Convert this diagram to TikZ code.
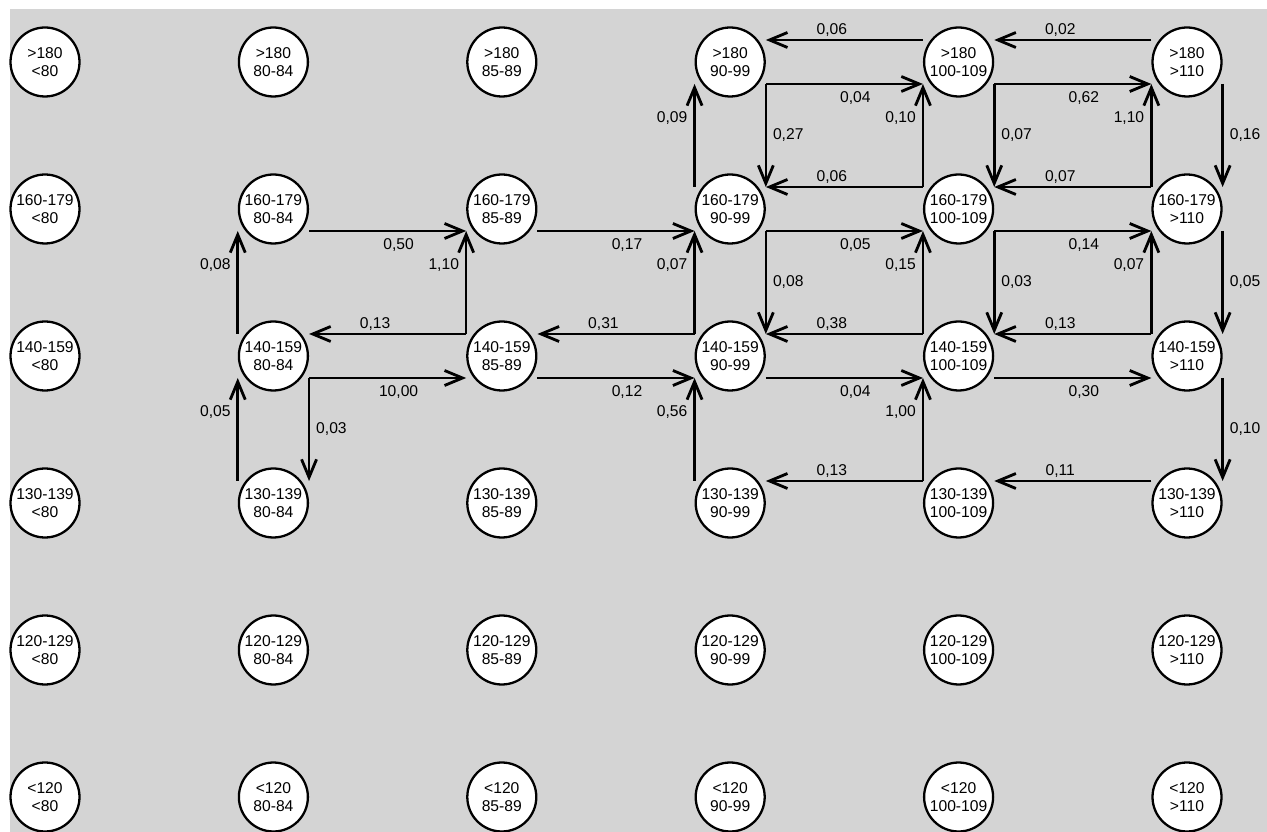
\documentclass[tikz,border=0pt]{standalone}
\usepackage{fontspec}
\setmainfont{Liberation Sans}
\usepackage{tikz}
\usetikzlibrary{arrows.meta,positioning}
\usepackage{xcolor}
\definecolor{bggray}{HTML}{D4D4D4}

\begin{document}
\begin{tikzpicture}[
font=\fontsize{8.9}{10.2}\selectfont,
node distance=2.94cm and 4.568cm,
on grid,
state/.style={circle,draw,fill=white,line width=1.3pt,minimum size=1.38cm,inner sep=0pt,align=center},
arr/.style={-{Straight Barb[length=3.6mm,width=3mm,line width=1.6pt]},line width=1.5pt},
hi/.style={yshift=0.44cm},
lo/.style={yshift=-0.44cm},
lblabove/.style={pos=0.58,above,inner sep=1pt},
lblbelow/.style={pos=0.57,below},
lblleft/.style={pos=0.67,left},
lblright/.style={midway,right}
]
\useasboundingbox (0,0) rectangle (25.34,-16.64);
\fill[white] (0,0) rectangle (25.34,-16.64);
\fill[bggray] (0.2,-0.18) rectangle (25.34,-16.64);

% row >180
\node[state] (s180d0) at (0.9,-1.24) {>180\\<80};
\node[state,right=of s180d0] (s180d80) {>180\\80-84};
\node[state,right=of s180d80] (s180d85) {>180\\85-89};
\node[state,right=of s180d85] (s180d90) {>180\\90-99};
\node[state,right=of s180d90] (s180d100) {>180\\100-109};
\node[state,right=of s180d100] (s180d110) {>180\\>110};
% row 160-179
\node[state,below=of s180d0] (s160d0) {160-179\\<80};
\node[state,right=of s160d0] (s160d80) {160-179\\80-84};
\node[state,right=of s160d80] (s160d85) {160-179\\85-89};
\node[state,right=of s160d85] (s160d90) {160-179\\90-99};
\node[state,right=of s160d90] (s160d100) {160-179\\100-109};
\node[state,right=of s160d100] (s160d110) {160-179\\>110};
% row 140-159
\node[state,below=of s160d0] (s140d0) {140-159\\<80};
\node[state,right=of s140d0] (s140d80) {140-159\\80-84};
\node[state,right=of s140d80] (s140d85) {140-159\\85-89};
\node[state,right=of s140d85] (s140d90) {140-159\\90-99};
\node[state,right=of s140d90] (s140d100) {140-159\\100-109};
\node[state,right=of s140d100] (s140d110) {140-159\\>110};
% row 130-139
\node[state,below=of s140d0] (s130d0) {130-139\\<80};
\node[state,right=of s130d0] (s130d80) {130-139\\80-84};
\node[state,right=of s130d80] (s130d85) {130-139\\85-89};
\node[state,right=of s130d85] (s130d90) {130-139\\90-99};
\node[state,right=of s130d90] (s130d100) {130-139\\100-109};
\node[state,right=of s130d100] (s130d110) {130-139\\>110};
% row 120-129
\node[state,below=of s130d0] (s120d0) {120-129\\<80};
\node[state,right=of s120d0] (s120d80) {120-129\\80-84};
\node[state,right=of s120d80] (s120d85) {120-129\\85-89};
\node[state,right=of s120d85] (s120d90) {120-129\\90-99};
\node[state,right=of s120d90] (s120d100) {120-129\\100-109};
\node[state,right=of s120d100] (s120d110) {120-129\\>110};
% row <120
\node[state,below=of s120d0] (s0d0) {<120\\<80};
\node[state,right=of s0d0] (s0d80) {<120\\80-84};
\node[state,right=of s0d80] (s0d85) {<120\\85-89};
\node[state,right=of s0d85] (s0d90) {<120\\90-99};
\node[state,right=of s0d90] (s0d100) {<120\\100-109};
\node[state,right=of s0d100] (s0d110) {<120\\>110};

% to the right
\draw[arr] ([lo]s160d80.east) -- node[lblbelow]{0,50} ([lo]s160d85.west);
\draw[arr] ([lo]s140d80.east) -- node[lblbelow]{10,00} ([lo]s140d85.west);
\draw[arr] ([lo]s160d85.east) -- node[lblbelow]{0,17} ([lo]s160d90.west);
\draw[arr] ([lo]s140d85.east) -- node[lblbelow]{0,12} ([lo]s140d90.west);
\draw[arr] ([lo]s180d90.east) -- node[lblbelow]{0,04} ([lo]s180d100.west);
\draw[arr] ([lo]s180d100.east) -- node[lblbelow]{0,62} ([lo]s180d110.west);
\draw[arr] ([lo]s160d90.east) -- node[lblbelow]{0,05} ([lo]s160d100.west);
\draw[arr] ([lo]s160d100.east) -- node[lblbelow]{0,14} ([lo]s160d110.west);
\draw[arr] ([lo]s140d90.east) -- node[lblbelow]{0,04} ([lo]s140d100.west);
\draw[arr] ([lo]s140d100.east) -- node[lblbelow]{0,30} ([lo]s140d110.west);

% to the left
\draw[arr] ([hi]s140d85.west) -- node[lblabove]{0,13} ([hi]s140d80.east);
\draw[arr] ([hi]s140d90.west) -- node[lblabove]{0,31} ([hi]s140d85.east);
\draw[arr] ([hi]s180d100.west) -- node[lblabove]{0,06} ([hi]s180d90.east);
\draw[arr] ([hi]s180d110.west) -- node[lblabove]{0,02} ([hi]s180d100.east);
\draw[arr] ([hi]s160d100.west) -- node[lblabove]{0,06} ([hi]s160d90.east);
\draw[arr] ([hi]s160d110.west) -- node[lblabove]{0,07} ([hi]s160d100.east);
\draw[arr] ([hi]s140d100.west) -- node[lblabove]{0,38} ([hi]s140d90.east);
\draw[arr] ([hi]s140d110.west) -- node[lblabove]{0,13} ([hi]s140d100.east);
\draw[arr] ([hi]s130d100.west) -- node[lblabove]{0,13} ([hi]s130d90.east);
\draw[arr] ([hi]s130d110.west) -- node[lblabove]{0,11} ([hi]s130d100.east);

% upwards
\draw[arr] ([hi]s140d80.west) -- node[lblleft]{0,08} ([lo]s160d80.west);
\draw[arr] ([hi]s130d80.west) -- node[lblleft]{0,05} ([lo]s140d80.west);
\draw[arr] ([hi]s140d85.west) -- node[lblleft]{1,10} ([lo]s160d85.west);
\draw[arr] ([hi]s140d90.west) -- node[lblleft]{0,07} ([lo]s160d90.west);
\draw[arr] ([hi]s130d90.west) -- node[lblleft]{0,56} ([lo]s140d90.west);
\draw[arr] ([hi]s160d90.west) -- node[lblleft]{0,09} ([lo]s180d90.west);
\draw[arr] ([hi]s160d100.west) -- node[lblleft]{0,10} ([lo]s180d100.west);
\draw[arr] ([hi]s160d110.west) -- node[lblleft]{1,10} ([lo]s180d110.west);
\draw[arr] ([hi]s140d100.west) -- node[lblleft]{0,15} ([lo]s160d100.west);
\draw[arr] ([hi]s140d110.west) -- node[lblleft]{0,07} ([lo]s160d110.west);
\draw[arr] ([hi]s130d100.west) -- node[lblleft]{1,00} ([lo]s140d100.west);

% downwards
\draw[arr] ([lo]s140d80.east) -- node[lblright]{0,03} ([hi]s130d80.east);
\draw[arr] ([lo]s180d90.east) -- node[lblright]{0,27} ([hi]s160d90.east);
\draw[arr] ([lo]s180d100.east) -- node[lblright]{0,07} ([hi]s160d100.east);
\draw[arr] ([lo]s180d110.east) -- node[lblright]{0,16} ([hi]s160d110.east);
\draw[arr] ([lo]s160d90.east) -- node[lblright]{0,08} ([hi]s140d90.east);
\draw[arr] ([lo]s160d100.east) -- node[lblright]{0,03} ([hi]s140d100.east);
\draw[arr] ([lo]s160d110.east) -- node[lblright]{0,05} ([hi]s140d110.east);
\draw[arr] ([lo]s140d110.east) -- node[lblright]{0,10} ([hi]s130d110.east);
\end{tikzpicture}
\end{document}
